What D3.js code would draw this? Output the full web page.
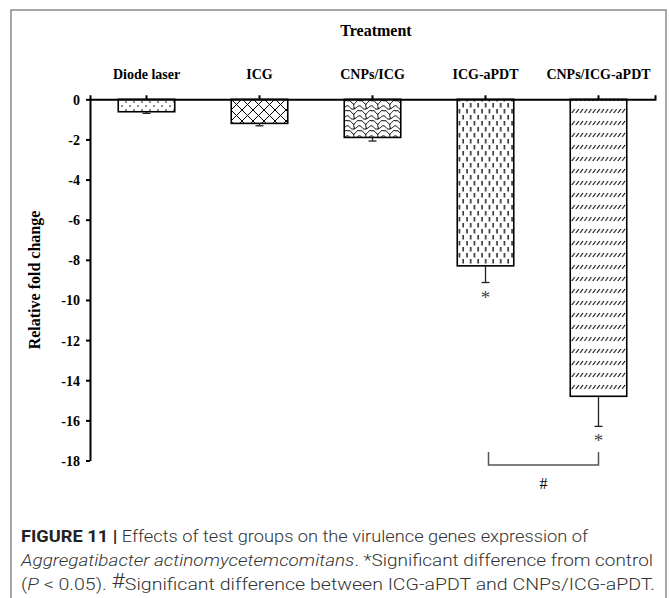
<!DOCTYPE html>
<html>
<head>
    <script src="https://d3js.org/d3.v7.min.js"></script>
    <style>
        body { margin: 0; background: #fff; }
        .ax text { font-family: "Liberation Serif", "Times New Roman", serif; font-weight: bold; font-size: 14px; fill: #000; }
        .ax path, .ax line { stroke: #000; stroke-width: 2; }
    </style>
</head>
<body>
    <div id="chart"></div>

    <script>
        // Data
        var categories = ["Diode laser", "ICG", "CNPs/ICG", "ICG-aPDT", "CNPs/ICG-aPDT"];
        var values = [-0.62, -1.2, -1.9, -8.3, -14.8];
        var errors = [0.08, 0.12, 0.18, 0.83, 1.5];
        var significant = [false, false, false, true, true];
        var yTicks = [0, -2, -4, -6, -8, -10, -12, -14, -16, -18];
        var patterns = ["dots", "cross", "scales", "dashes", "slashes"];

        var width = 669, height = 598;

        var svg = d3.select("#chart").append("svg")
            .attr("width", width)
            .attr("height", height);

        // outer frame
        svg.append("rect")
            .attr("x", 11).attr("y", 10)
            .attr("width", 655).attr("height", 600)
            .attr("fill", "none").attr("stroke", "#8a8a8a").attr("stroke-width", 1.5);

        // fill patterns
        var defs = svg.append("defs");

        var p = defs.append("pattern").attr("id", "dots").attr("patternUnits", "userSpaceOnUse")
            .attr("width", 8).attr("height", 8);
        p.append("circle").attr("cx", 2).attr("cy", 2).attr("r", 0.8).attr("fill", "#000");
        p.append("circle").attr("cx", 6).attr("cy", 6).attr("r", 0.8).attr("fill", "#000");

        p = defs.append("pattern").attr("id", "cross").attr("patternUnits", "userSpaceOnUse")
            .attr("width", 11).attr("height", 11);
        p.append("path").attr("d", "M0,0L11,11M11,0L0,11M-1,10L1,12M10,-1L12,1")
            .attr("stroke", "#000").attr("stroke-width", 1).attr("fill", "none");

        p = defs.append("pattern").attr("id", "scales").attr("patternUnits", "userSpaceOnUse")
            .attr("width", 12).attr("height", 10);
        p.append("path").attr("d", "M0,1 C3,-1 4,5 6,4 C8,3 9,-1 12,1 M0,6 C2,6 2,10 6,9 C9,8 10,5 12,6 M6,4 C5,6 7,8 6,9")
            .attr("stroke", "#000").attr("stroke-width", 1).attr("fill", "none");

        p = defs.append("pattern").attr("id", "dashes").attr("patternUnits", "userSpaceOnUse")
            .attr("width", 7.5).attr("height", 12);
        p.append("path").attr("d", "M2,1V5.5M5.7,7V11.5")
            .attr("stroke", "#000").attr("stroke-width", 1.3);

        p = defs.append("pattern").attr("id", "slashes").attr("patternUnits", "userSpaceOnUse")
            .attr("width", 4.2).attr("height", 12);
        p.append("path").attr("d", "M0.6,5L3.4,1")
            .attr("stroke", "#000").attr("stroke-width", 1);

        // scales
        var x = d3.scaleBand().domain(categories).range([90, 655])
            .paddingInner(0.5).paddingOuter(0.25);
        var y = d3.scaleLinear().domain([0, -18]).range([99.3, 460.5]);

        // bars
        svg.selectAll(".bar")
            .data(values)
            .enter().append("rect")
            .attr("class", "bar")
            .attr("x", function(d, i) { return x(categories[i]); })
            .attr("y", y(0))
            .attr("width", x.bandwidth())
            .attr("height", function(d) { return y(d) - y(0); })
            .attr("fill", function(d, i) { return "url(#" + patterns[i] + ")"; })
            .attr("stroke", "#000").attr("stroke-width", 1.6);

        // error bars (downward only)
        var eb = svg.selectAll(".err")
            .data(values)
            .enter().append("g")
            .attr("class", "err")
            .attr("stroke", "#222").attr("stroke-width", 1.3);
        eb.append("line")
            .attr("x1", function(d, i) { return x(categories[i]) + x.bandwidth() / 2; })
            .attr("x2", function(d, i) { return x(categories[i]) + x.bandwidth() / 2; })
            .attr("y1", function(d) { return y(d); })
            .attr("y2", function(d, i) { return y(d - errors[i]); });
        eb.append("line")
            .attr("x1", function(d, i) { return x(categories[i]) + x.bandwidth() / 2 - 4; })
            .attr("x2", function(d, i) { return x(categories[i]) + x.bandwidth() / 2 + 4; })
            .attr("y1", function(d, i) { return y(d - errors[i]); })
            .attr("y2", function(d, i) { return y(d - errors[i]); });

        // asterisks
        svg.selectAll(".star")
            .data(values.filter(function(d, i) { return significant[i]; }))
            .enter().append("text")
            .attr("x", function(d) { return x(categories[values.indexOf(d)]) + x.bandwidth() / 2; })
            .attr("y", function(d) { return y(d - errors[values.indexOf(d)]) + 21; })
            .attr("text-anchor", "middle")
            .style("font-family", "Liberation Serif, serif")
            .style("font-size", "19px")
            .style("fill", "#444")
            .text("*");

        // axes
        svg.append("g").attr("class", "ax")
            .attr("transform", "translate(90,0)")
            .call(d3.axisLeft(y).tickValues(yTicks).tickSize(4).tickSizeOuter(0).tickPadding(6)
                .tickFormat(function(d) { return d === 0 ? "0" : String(d); }))
            .selectAll("text").attr("dy", "0.35em");

        svg.append("g").attr("class", "ax")
            .attr("transform", "translate(0," + y(0) + ")")
            .call(d3.axisTop(x).tickSize(4).tickSizeOuter(4).tickPadding(16));

        // title
        svg.append("text")
            .attr("x", 376).attr("y", 36)
            .attr("text-anchor", "middle")
            .style("font-family", "Liberation Serif, serif")
            .style("font-weight", "bold").style("font-size", "16px")
            .text("Treatment");

        svg.append("text")
            .attr("transform", "translate(40,280) rotate(-90)")
            .attr("text-anchor", "middle")
            .style("font-family", "Liberation Serif, serif")
            .style("font-weight", "bold").style("font-size", "16px")
            .text("Relative fold change");

        // significance bracket between the two aPDT groups
        var bx1 = x("ICG-aPDT") + x.bandwidth() / 2 + 3;
        var bx2 = x("CNPs/ICG-aPDT") + x.bandwidth() / 2;
        svg.append("path")
            .attr("d", "M" + bx1 + ",452V465H" + bx2 + "V452")
            .attr("fill", "none").attr("stroke", "#555").attr("stroke-width", 1.5);
        svg.append("text")
            .attr("x", (bx1 + bx2) / 2).attr("y", 489)
            .attr("text-anchor", "middle")
            .style("font-family", "Liberation Serif, serif")
            .style("font-size", "16px")
            .text("#");

        // caption
        var cap = svg.append("g")
            .style("font-family", "'Roboto', 'Liberation Sans', sans-serif")
            .style("font-weight", "300")
            .style("font-size", "17px")
            .style("fill", "#333");

        var l1 = cap.append("text").attr("x", 21).attr("y", 542)
            .attr("textLength", 567).attr("lengthAdjust", "spacingAndGlyphs");
        l1.append("tspan").style("font-weight", "bold").style("fill", "#222").text("FIGURE 11 | ");
        l1.append("tspan").text("Effects of test groups on the virulence genes expression of");

        var l2 = cap.append("text").attr("x", 21).attr("y", 566)
            .attr("textLength", 632).attr("lengthAdjust", "spacingAndGlyphs");
        l2.append("tspan").style("font-style", "italic").text("Aggregatibacter actinomycetemcomitans");
        l2.append("tspan").text(". *Significant difference from control");

        var l3 = cap.append("text").attr("x", 21).attr("y", 590)
            .attr("textLength", 634).attr("lengthAdjust", "spacingAndGlyphs");
        l3.append("tspan").text("(");
        l3.append("tspan").style("font-style", "italic").text("P");
        l3.append("tspan").text(" < 0.05). ");
        l3.append("tspan").style("font-size", "20px").attr("dy", -2).text("#");
        l3.append("tspan").attr("dy", 2).text("Significant difference between ICG-aPDT and CNPs/ICG-aPDT.");
    </script>
</body>
</html>
